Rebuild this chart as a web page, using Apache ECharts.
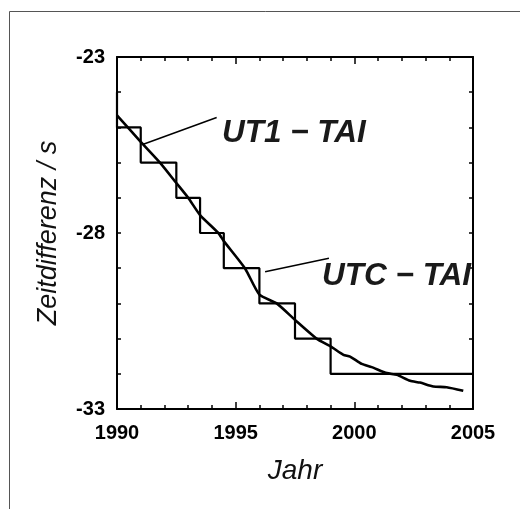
<!DOCTYPE html>
<html>
<head>
<meta charset="utf-8">
<script src="https://cdn.jsdelivr.net/npm/echarts@6/dist/echarts.min.js"></script>
<style>html,body{margin:0;padding:0;background:#fff}#c{width:520px;height:509px}</style>
</head>
<body>
<div id="c"></div>
<script>
// UTC − TAI step function (leap-second epochs)
var leapYears = [1990, 1990, 1991, 1992.5, 1993.5, 1994.5, 1996, 1997.5, 1999, 2005];
var utcMinusTai = [-24, -25, -26, -27, -28, -29, -30, -31, -32, -32];

// UT1 − TAI curve
var ut1Years = [1990.0, 1991.0, 1991.81, 1992.5, 1993.0, 1993.5, 1994.27, 1994.5, 1995.39, 1996.0, 1996.73, 1997.5, 1998.41, 1999.0, 1999.54, 1999.82, 2000.31, 2000.73, 2001.37, 2001.79, 2002.35, 2002.77, 2003.33, 2003.89, 2004.59];
var ut1MinusTai = [-24.66, -25.41, -26.0, -26.58, -27.0, -27.49, -28.0, -28.23, -29.0, -29.75, -30.0, -30.47, -31.0, -31.22, -31.46, -31.51, -31.72, -31.81, -31.98, -32.03, -32.2, -32.25, -32.36, -32.38, -32.48];

// annotation pointers and labels
var ut1PointerX = [1994.2, 1991.11];
var ut1PointerY = [-24.72, -25.48];
var utcPointerX = [1998.93, 1996.24];
var utcPointerY = [-28.72, -29.1];
var labelTexts = ['UT1 \u2212 TAI', 'UTC \u2212 TAI'];
var labelX = [1994.42, 1998.64];
var labelY = [-25.16, -29.24];

// axes
var xMin = 1990, xMax = 2005, xStep = 5;
var yMin = -33, yMax = -23, yStep = 1;
var yLabelValues = [-33, -28, -23];

function zip(a, b) { return a.map(function (v, i) { return [v, b[i]]; }); }

var FONT = 'Liberation Sans, Arial, sans-serif';
var chart = echarts.init(document.getElementById('c'), null, {renderer: 'canvas'});

var axisLineStyle = {color: '#000', width: 2};
function xAxisCfg(pos, showLabel) {
  return {
    type: 'value', position: pos, min: xMin, max: xMax, interval: xStep,
    axisLine: {show: true, onZero: false, lineStyle: axisLineStyle},
    axisTick: {show: true, inside: true, length: 7, lineStyle: {color: '#000', width: 1.5}},
    minorTick: {show: true, splitNumber: 5, length: 4, lineStyle: {color: '#000', width: 1.5}},
    splitLine: {show: false}, minorSplitLine: {show: false},
    axisLabel: {show: showLabel, margin: 14, fontSize: 20, fontWeight: 'bold', color: '#000', fontFamily: FONT,
      formatter: function (v) { return String(v); }},
    name: showLabel ? 'Jahr' : '', nameLocation: 'middle', nameGap: 48,
    nameTextStyle: {fontSize: 28, fontStyle: 'italic', color: '#111', fontFamily: FONT}
  };
}
function yAxisCfg(pos, showLabel) {
  return {
    type: 'value', position: pos, min: yMin, max: yMax, interval: yStep,
    axisLine: {show: true, onZero: false, lineStyle: axisLineStyle},
    axisTick: {show: true, inside: true, length: 4, lineStyle: {color: '#000', width: 1.5}},
    splitLine: {show: false},
    axisLabel: {show: showLabel, margin: 12, fontSize: 20, fontWeight: 'bold', color: '#000', fontFamily: FONT,
      formatter: function (v) { return yLabelValues.indexOf(Math.round(v)) >= 0 && Math.abs(v - Math.round(v)) < 1e-6 ? String(Math.round(v)) : ''; }},
    name: showLabel ? 'Zeitdifferenz / s' : '', nameLocation: 'middle', nameGap: 55, nameRotate: 90,
    nameTextStyle: {fontSize: 27, fontStyle: 'italic', color: '#111', fontFamily: FONT}
  };
}

chart.setOption({
  animation: false,
  backgroundColor: '#fff',
  grid: {left: 117, right: 47, top: 57, bottom: 100, containLabel: false},
  xAxis: [xAxisCfg('bottom', true), xAxisCfg('top', false)],
  yAxis: [yAxisCfg('left', true), yAxisCfg('right', false)],
  graphic: [{
    type: 'rect', shape: {x: 9.5, y: 11.5, width: 600, height: 600},
    style: {fill: null, stroke: '#555', lineWidth: 1}, silent: true, z: -10
  }],
  series: [
    {type: 'line', data: zip(leapYears, utcMinusTai), step: 'end', symbol: 'none',
      lineStyle: {color: '#000', width: 2.2}, z: 3},
    {type: 'line', data: zip(ut1Years, ut1MinusTai), symbol: 'none', smooth: 0.2,
      lineStyle: {color: '#000', width: 2.6}, z: 4},
    {type: 'line', data: zip(ut1PointerX, ut1PointerY), symbol: 'none',
      lineStyle: {color: '#000', width: 1.5}, z: 2},
    {type: 'line', data: zip(utcPointerX, utcPointerY), symbol: 'none',
      lineStyle: {color: '#000', width: 1.5}, z: 2},
    {type: 'scatter', symbolSize: 0, itemStyle: {opacity: 1, color: '#000'},
      data: zip(labelX, labelY).map(function (p, i) {
        return {value: p, label: {formatter: labelTexts[i]}};
      }),
      label: {show: true, position: 'right', distance: 0, align: 'left', verticalAlign: 'middle',
        fontSize: 31.5, fontWeight: 'bold', fontStyle: 'italic', color: '#1a1a1a', opacity: 1,
        textBorderWidth: 0, textBorderColor: 'transparent', textShadowBlur: 0, fontFamily: FONT},
      emphasis: {disabled: true}, z: 5}
  ]
});
</script>
</body>
</html>
